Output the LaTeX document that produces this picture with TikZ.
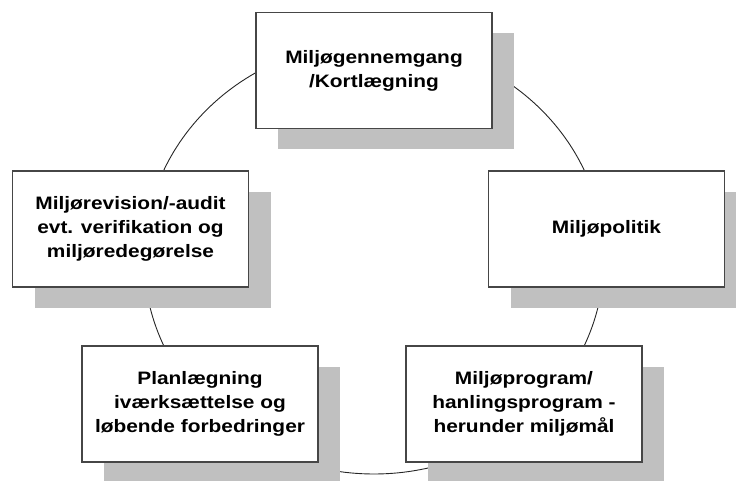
\documentclass[tikz,border=0pt]{standalone}
\usepackage{fontspec}
\usepackage{graphicx}
\setmainfont{Liberation Sans}
\usetikzlibrary{shadows}
\definecolor{shadowgray}{RGB}{192,192,192}
\definecolor{edgegray}{RGB}{70,70,70}
% stage labels: bold sans, slightly widened, centred lines
\newcommand\stagelabel[1]{\scalebox{1.16}[1]{\begin{tabular}{@{}c@{}}#1\end{tabular}}}
\tikzset{
  stage/.style={draw=edgegray, line width=1.2pt, fill=white,
    minimum width=236pt, minimum height=116pt, inner sep=0pt,
    align=center, font=\fontsize{18}{24}\selectfont\bfseries,
    drop shadow={shadow xshift=22pt, shadow yshift=-21pt,
      fill=shadowgray, draw=none, opacity=1}},
  cycle/.style={draw=black!85, line width=0.9pt}
}
\begin{document}
\begin{tikzpicture}[x=1pt,y=1pt]
  \useasboundingbox (0,0) rectangle (736,480);
  \clip (0,0) rectangle (736,480);
  % the cycle running behind the five stages
  \coordinate (centre) at (374,222);
  \draw[cycle] (centre) ellipse [x radius=230, y radius=216];
  % stages
  \node[stage] (review)  at (374,409.5) {\stagelabel{Miljøgennemgang\\/Kortlægning}};
  \node[stage] (policy)  at (606.5,251) {\stagelabel{Miljøpolitik}};
  \node[stage] (program) at (524,76)    {\stagelabel{Miljøprogram/\\hanlingsprogram -\\herunder miljømål}};
  \node[stage] (plan)    at (200,76)    {\stagelabel{Planlægning\\iværksættelse og\\løbende forbedringer}};
  \node[stage] (audit)   at (130.5,251) {\stagelabel{Miljørevision/-audit\\evt. verifikation og\\miljøredegørelse}};
\end{tikzpicture}
\end{document}
